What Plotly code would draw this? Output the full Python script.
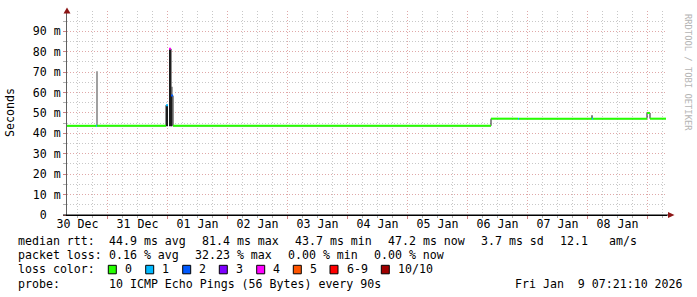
import plotly.graph_objects as go
from datetime import datetime, timedelta

# ---------------- data ----------------
# median rtt run segments: start time, value (ms), loss count (of 10 pings)
med_start = ["2025-12-29 19:48", "2025-12-30 07:24", "2025-12-30 07:48",
             "2025-12-31 11:24", "2025-12-31 12:12", "2025-12-31 12:36",
             "2025-12-31 13:24", "2025-12-31 14:12", "2026-01-05 21:24",
             "2026-01-06 08:12", "2026-01-06 08:36", "2026-01-07 13:48",
             "2026-01-07 14:12", "2026-01-08 11:48", "2026-01-08 13:00"]
med_ms = [43.7, 43.7, 43.7, 53.8, None, 81.4, 58.5, 43.7, 47.2,
          47.2, 47.2, 47.2, 47.2, 50.0, 47.2]
med_loss = [0, 1, 0, 1, None, 4, 2, 0, 0, 1, 0, 1, 0, 0, 0]
data_end = "2026-01-08 19:24"

# smoke (spread of the pings)
smoke_start = ["2025-12-30 07:24", "2025-12-31 11:24", "2025-12-31 12:36",
               "2025-12-31 13:24", "2025-12-31 13:24", "2026-01-07 13:24"]
smoke_end = ["2025-12-30 08:12", "2025-12-31 12:12", "2025-12-31 13:24",
             "2025-12-31 14:12", "2025-12-31 13:48", "2026-01-07 14:12"]
smoke_lo = [43.7, 43.5, 43.5, 43.5, 43.5, 47.2]
smoke_hi = [70.4, 53.8, 81.4, 62.8, 58.5, 48.9]
smoke_shade = ["#a0a0a0", "#1c1c1c", "#1c1c1c", "#a0a0a0", "#1c1c1c", "#808080"]

loss_labels = ["0", "1", "2", "3", "4", "5", "6-9", "10/10"]
loss_colors = ["#26ff00", "#00b8ff", "#0059ff", "#7e00ff", "#ff00ff",
               "#ff5500", "#ff0000", "#a00000"]

y_tick_vals = [0, 0.01, 0.02, 0.03, 0.04, 0.05, 0.06, 0.07, 0.08, 0.09]
y_tick_text = ["0\u00a0\u00a0", "10 m", "20 m", "30 m", "40 m", "50 m",
               "60 m", "70 m", "80 m", "90 m"]

rtt_stats = ["44.9 ms avg", "81.4 ms max", "43.7 ms min", "47.2 ms now",
             "3.7 ms sd", "12.1", "am/s"]
loss_stats = ["0.16 % avg", "32.23 % max", "0.00 % min", "0.00 % now"]
probe_text = "10 ICMP Echo Pings (56 Bytes) every 90s"
stamp_text = "Fri Jan\u00a0\u00a09 07:21:10 2026"

x_range = ["2025-12-29 19:48", "2026-01-08 19:48"]

# ---------------- layout constants ----------------
FONT = "DejaVu Sans Mono"
FS = 11.6
L, R, T, B = 67, 30, 11, 82
W, H = 697, 297
PW, PH = W - L - R, H - T - B


def px(x):
    return (x - L) / PW


def py(y):
    return (H - B - y) / PH


def t(s):
    return datetime.strptime(s, "%Y-%m-%d %H:%M")


def loss_idx(n):
    return n if n <= 5 else (6 if n < 10 else 7)


fig = go.Figure()

# smoke bars
for s, e, lo, hi, c in zip(smoke_start, smoke_end, smoke_lo, smoke_hi, smoke_shade):
    ts, te = t(s), t(e)
    fig.add_trace(go.Bar(
        x=[ts + (te - ts) / 2], y=[(hi - lo) / 1000], base=[lo / 1000],
        width=[(te - ts).total_seconds() * 1000],
        marker=dict(color=c, line=dict(width=0)),
        showlegend=False, hoverinfo="skip"))

# thin dark median line (shows transitions)
xs = [t(s) for s in med_start] + [t(data_end)]
ys = [None if v is None else v / 1000 for v in med_ms] + [med_ms[-1] / 1000]
fig.add_trace(go.Scatter(x=xs, y=ys, mode="lines",
                         line=dict(color="#202020", width=1, shape="hv"),
                         showlegend=False, hoverinfo="skip"))

# coloured median segments by loss
ends = med_start[1:] + [data_end]
for li, col in enumerate(loss_colors):
    sx, sy = [], []
    for s, e, v, n in zip(med_start, ends, med_ms, med_loss):
        if v is None or n is None or loss_idx(n) != li:
            continue
        sx += [t(s), t(e), None]
        sy += [v / 1000, v / 1000, None]
    if sx:
        fig.add_trace(go.Scatter(x=sx, y=sy, mode="lines",
                                 line=dict(color=col, width=2),
                                 showlegend=False, hoverinfo="skip"))

# invisible trace for label axis
fig.add_trace(go.Scatter(x=[t(x_range[0])], y=[0], xaxis="x2", mode="none",
                         showlegend=False, hoverinfo="skip"))

DOT = "1px,2px"
GRID = "#c8c8c8"
MGRID = "#e0a8a8"

fig.update_layout(
    width=W, height=H,
    margin=dict(l=L, r=R, t=T, b=B, pad=0),
    paper_bgcolor="white", plot_bgcolor="white",
    barmode="overlay",
    showlegend=False,
    font=dict(family=FONT, size=FS, color="black"),
    xaxis=dict(
        type="date", range=[t(x_range[0]), t(x_range[1])],
        tick0="2025-12-29 12:00", dtick=86400000,
        showticklabels=False, showgrid=True, gridcolor=MGRID, griddash=DOT,
        gridwidth=1, ticks="outside", ticklen=3, tickcolor="#d08080",
        showline=True, linecolor="black", linewidth=1, zeroline=False,
        automargin=False,
        minor=dict(tick0="2025-12-29 12:00", dtick=21600000, showgrid=True,
                   gridcolor=GRID, griddash=DOT, gridwidth=1,
                   ticks="outside", ticklen=2, tickcolor="#b0b0b0"),
    ),
    xaxis2=dict(
        type="date", overlaying="x", anchor="y", side="bottom",
        range=[t(x_range[0]), t(x_range[1])],
        tick0="2025-12-30 00:00", dtick=86400000, tickformat="%d %b",
        showgrid=False, ticks="", showline=False, zeroline=False,
        automargin=False, tickfont=dict(family=FONT, size=FS, color="black"),
    ),
    yaxis=dict(
        range=[0, 0.09995], tickmode="array", tickvals=y_tick_vals,
        ticktext=y_tick_text, showgrid=True, gridcolor=MGRID, griddash=DOT,
        gridwidth=1, ticks="outside", ticklen=3, tickcolor="#d08080",
        showline=True, linecolor="#606060", linewidth=1, zeroline=False,
        automargin=False, tickfont=dict(family=FONT, size=FS, color="black"),
        minor=dict(dtick=0.005, tick0=0, showgrid=True, gridcolor=GRID,
                   griddash=DOT, gridwidth=1, ticks="outside", ticklen=3,
                   tickcolor="#b0b0b0"),
    ),
)

ann = []


def text(x, y, s, **kw):
    d = dict(x=px(x), y=py(y), xref="paper", yref="paper", text=s,
             showarrow=False, xanchor="left", yanchor="middle",
             font=dict(family=FONT, size=FS, color="black"))
    d.update(kw)
    ann.append(d)


# y-axis title
text(10, 113, "Seconds", xanchor="center", textangle=-90)
# watermark
ann.append(dict(x=px(688), y=py(72), xref="paper", yref="paper",
                text="RRDTOOL / TOBI OETIKER", showarrow=False,
                xanchor="center", yanchor="middle", textangle=90,
                font=dict(family=FONT, size=8.8, color="#b4b4b4")))

# legend lines
Y1, Y2, Y3, Y4 = 241.3, 255.3, 269.3, 283.5
text(16, Y1, "median rtt:")
for s, x in zip(rtt_stats, [107.3, 200, 292.7, 385.7, 479.3, 558.3, 606.7]):
    text(x, Y1, s)
text(16, Y2, "packet loss:")
for s, x in zip(loss_stats, [107.3, 193.3, 286, 372.3]):
    text(x, Y2, s)
text(16, Y3, "loss color:")
box_x = [108.3, 145.7, 182.7, 219.3, 256.7, 293.3, 330, 381.3]
shapes = []
for lab, col, bx in zip(loss_labels, loss_colors, box_x):
    shapes.append(dict(type="rect", xref="paper", yref="paper",
                       x0=px(bx), x1=px(bx + 8), y0=py(Y3 + 4.5), y1=py(Y3 - 4),
                       fillcolor=col, line=dict(color="black", width=1),
                       layer="above"))
    text(bx + 14.5, Y3, lab)
text(16, Y4, "probe:")
text(107.3, Y4, probe_text)
text(513.3, Y4, stamp_text)

# axis arrows
ARROW = "#8c1515"
shapes.append(dict(type="path", xref="paper", yref="paper",
                   path=f"M {px(63.5)},{py(13.5)} L {px(70.5)},{py(13.5)} L {px(67)},{py(7.5)} Z",
                   fillcolor=ARROW, line=dict(color=ARROW, width=0), layer="above"))
shapes.append(dict(type="path", xref="paper", yref="paper",
                   path=f"M {px(668)},{py(212)} L {px(668)},{py(218)} L {px(674.5)},{py(215)} Z",
                   fillcolor=ARROW, line=dict(color=ARROW, width=0), layer="above"))
# x axis extension to arrow
shapes.append(dict(type="line", xref="paper", yref="paper",
                   x0=px(63), x1=px(668), y0=py(215), y1=py(215),
                   line=dict(color="black", width=1), layer="above"))

fig.update_layout(annotations=ann, shapes=shapes)
fig.write_html("out.html")
